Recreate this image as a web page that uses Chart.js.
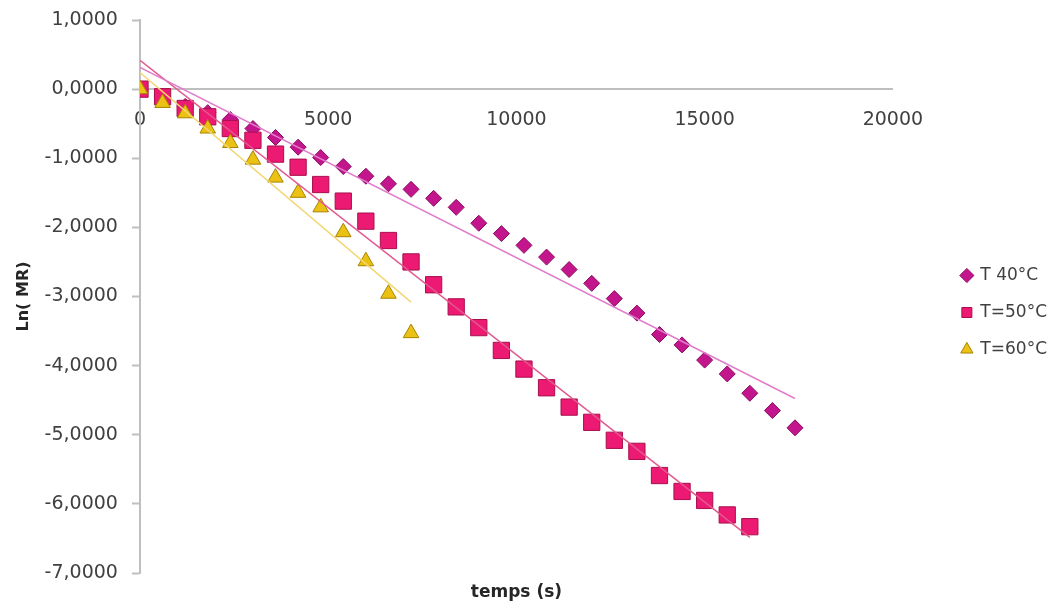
<!DOCTYPE html>
<html>
<head>
<meta charset="utf-8">
<title>Ln(MR) vs temps</title>
<script src="https://cdn.jsdelivr.net/npm/chart.js@4.4.1/dist/chart.umd.min.js"></script>
<style>
  html, body { margin: 0; padding: 0; background: #fff; }
  #wrap { width: 1057px; height: 605px; }
</style>
</head>
<body>
<div id="wrap"><canvas id="chart"></canvas></div>
<script>
// drying time (s) and Ln(MR)
const time40 = [0, 600, 1200, 1800, 2400, 3000, 3600, 4200, 4800, 5400, 6000, 6600, 7200, 7800, 8400,
                9000, 9600, 10200, 10800, 11400, 12000, 12600, 13200, 13800, 14400, 15000, 15600, 16200, 16800, 17400];
const lnMR40 = [0, -0.12, -0.25, -0.34, -0.44, -0.57, -0.70, -0.84, -0.99, -1.12, -1.26, -1.37, -1.45, -1.58, -1.71,
                -1.94, -2.09, -2.26, -2.43, -2.61, -2.81, -3.03, -3.24, -3.55, -3.70, -3.92, -4.12, -4.40, -4.65, -4.90];

const time50 = [0, 600, 1200, 1800, 2400, 3000, 3600, 4200, 4800, 5400, 6000, 6600, 7200, 7800,
                8400, 9000, 9600, 10200, 10800, 11400, 12000, 12600, 13200, 13800, 14400, 15000, 15600, 16200];
const lnMR50 = [0, -0.11, -0.28, -0.40, -0.57, -0.74, -0.94, -1.13, -1.38, -1.62, -1.91, -2.19, -2.50, -2.83,
                -3.15, -3.45, -3.78, -4.05, -4.32, -4.60, -4.82, -5.08, -5.24, -5.59, -5.82, -5.95, -6.16, -6.33];

const time60 = [0, 600, 1200, 1800, 2400, 3000, 3600, 4200, 4800, 5400, 6000, 6600, 7200];
const lnMR60 = [0, -0.20, -0.35, -0.57, -0.78, -1.02, -1.28, -1.50, -1.71, -2.07, -2.49, -2.96, -3.53];

const seriesLabels = ['T 40°C', 'T=50°C', 'T=60°C'];

const xTickValues = [0, 5000, 10000, 15000, 20000];
const yTickValues = [-7, -6, -5, -4, -3, -2, -1, 0, 1];

// helpers
function toPoints(xs, ys) {
    return xs.map((x, i) => ({ x: x, y: ys[i] }));
}

// least squares line over the data range (Excel-style linear trendline)
function trendLine(xs, ys) {
    const n = xs.length;
    const mx = xs.reduce((a, b) => a + b, 0) / n;
    const my = ys.reduce((a, b) => a + b, 0) / n;
    let sxy = 0, sxx = 0;
    for (let i = 0; i < n; i++) {
        sxy += (xs[i] - mx) * (ys[i] - my);
        sxx += (xs[i] - mx) * (xs[i] - mx);
    }
    const slope = sxy / sxx;
    const icpt = my - slope * mx;
    const x0 = xs[0], x1 = xs[n - 1];
    return [{ x: x0, y: icpt + slope * x0 }, { x: x1, y: icpt + slope * x1 }];
}

Chart.defaults.font.family = "'DejaVu Sans', Verdana, sans-serif";
Chart.defaults.color = '#404040';

const axisGrey = '#BFBFBF';

const ctx = document.getElementById('chart').getContext('2d');

new Chart(ctx, {
    type: 'scatter',
    data: {
        datasets: [
            {
                label: seriesLabels[0],
                data: toPoints(time40, lnMR40),
                pointStyle: 'rectRot',
                pointRadius: 8,
                pointHoverRadius: 8,
                backgroundColor: '#C4168C',
                borderColor: '#8A0C62',
                borderWidth: 1,
                order: 3
            },
            {
                label: seriesLabels[1],
                data: toPoints(time50, lnMR50),
                pointStyle: 'rect',
                pointRadius: 11.5,
                pointHoverRadius: 11.5,
                backgroundColor: '#EC1A72',
                borderColor: '#A80F4C',
                borderWidth: 1,
                order: 2
            },
            {
                label: seriesLabels[2],
                data: toPoints(time60, lnMR60),
                pointStyle: 'triangle',
                pointRadius: 9,
                pointHoverRadius: 9,
                backgroundColor: '#EBC114',
                borderColor: '#A88400',
                borderWidth: 1,
                order: 1
            },
            {
                label: 'Linéaire (' + seriesLabels[0] + ')',
                trend: true,
                data: trendLine(time40, lnMR40),
                showLine: true,
                pointRadius: 0,
                borderColor: '#E07CCB',
                borderWidth: 1.5,
                order: 0
            },
            {
                label: 'Linéaire (' + seriesLabels[1] + ')',
                trend: true,
                data: trendLine(time50, lnMR50),
                showLine: true,
                pointRadius: 0,
                borderColor: '#E2588E',
                borderWidth: 1.5,
                order: 0
            },
            {
                label: 'Linéaire (' + seriesLabels[2] + ')',
                trend: true,
                data: trendLine(time60, lnMR60),
                showLine: true,
                pointRadius: 0,
                borderColor: '#F2D774',
                borderWidth: 1.5,
                order: 0
            }
        ]
    },
    options: {
        responsive: true,
        maintainAspectRatio: false,
        animation: false,
        layout: {
            padding: { top: 20, left: 0, right: 0, bottom: 0 }
        },
        plugins: {
            legend: {
                position: 'right',
                labels: {
                    usePointStyle: true,
                    boxWidth: 10,
                    boxHeight: 10,
                    padding: 20,
                    color: '#404040',
                    font: { size: 17 },
                    filter: (item, data) => !data.datasets[item.datasetIndex].trend,
                    sort: (a, b) => a.datasetIndex - b.datasetIndex
                }
            },
            tooltip: {
                filter: item => !item.dataset.trend
            }
        },
        scales: {
            x: {
                type: 'linear',
                position: { y: 0 },
                min: 0,
                max: 20000,
                afterBuildTicks: scale => {
                    scale.ticks = xTickValues.map(v => ({ value: v }));
                },
                ticks: {
                    autoSkip: false,
                    maxRotation: 0,
                    padding: 12,
                    font: { size: 19 },
                    callback: value => String(value)
                },
                grid: { display: false },
                border: { color: axisGrey, width: 2 }
            },
            y: {
                type: 'linear',
                position: 'left',
                min: -7,
                max: 1,
                afterBuildTicks: scale => {
                    scale.ticks = yTickValues.map(v => ({ value: v }));
                },
                ticks: {
                    padding: 8,
                    font: { size: 19 },
                    // trailing space keeps the gap to the axis without extra scale padding
                    callback: value => value.toFixed(4).replace('.', ',') + ' '
                },
                grid: {
                    drawOnChartArea: false,
                    tickLength: 8,
                    tickColor: axisGrey,
                    tickWidth: 2
                },
                border: { color: axisGrey, width: 2 },
                title: {
                    display: true,
                    text: 'Ln( MR)',
                    color: '#262626',
                    font: { size: 16, weight: 'bold' },
                    padding: { top: 14, bottom: 0 }
                },
                afterFit: scale => { scale.width = 140; }
            },
            // carries only the x axis title under the plot
            xTitle: {
                type: 'linear',
                axis: 'x',
                position: 'bottom',
                grid: { display: false },
                border: { display: false },
                ticks: { display: false },
                title: {
                    display: true,
                    text: 'temps (s)',
                    color: '#262626',
                    font: { size: 17, weight: 'bold' },
                    padding: { top: 0, bottom: 2 }
                },
                afterFit: scale => { scale.height = 32; }
            },
            // empty gap between plot and legend
            gapRight: {
                type: 'linear',
                axis: 'y',
                position: 'right',
                grid: { display: false },
                border: { display: false },
                ticks: { display: false },
                afterFit: scale => { scale.width = 49; }
            }
        }
    }
});
</script>
</body>
</html>
